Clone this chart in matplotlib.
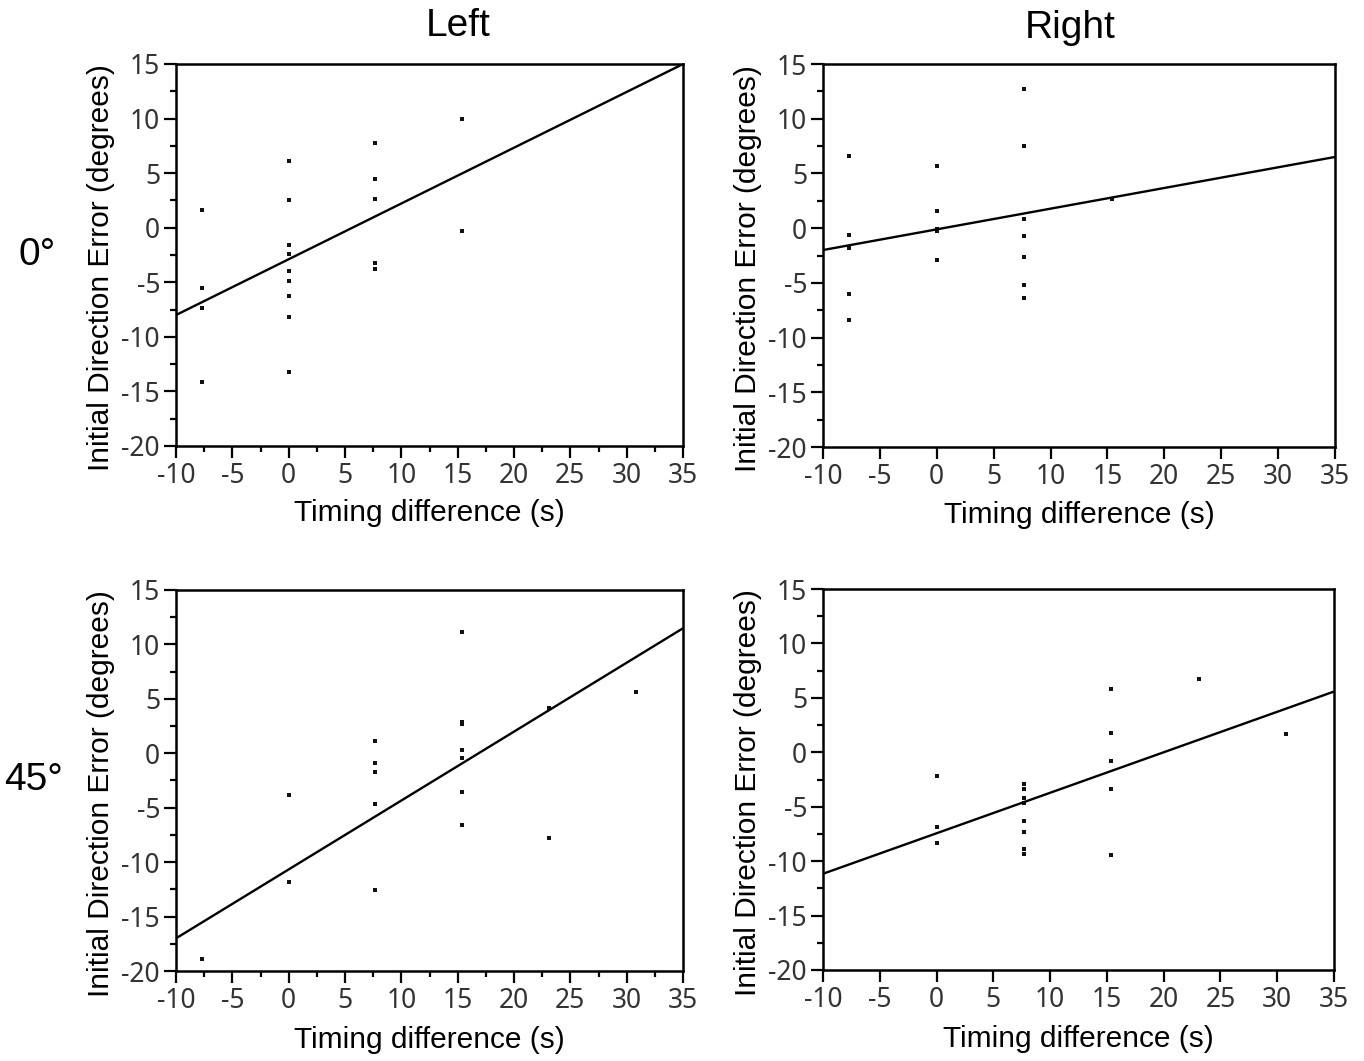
import numpy as np
import matplotlib
matplotlib.use("Agg")
import matplotlib.pyplot as plt
from matplotlib.ticker import MultipleLocator

plt.rcParams["axes.unicode_minus"] = False

# Timing differences (s) at which trials were recorded
# --- 0 deg, Left ---
x_0_left = [-7.7, -7.7, -7.7, -7.7,
            0, 0, 0, 0, 0, 0, 0, 0, 0,
            7.7, 7.7, 7.7, 7.7, 7.7,
            15.4, 15.4]
y_0_left = [1.6, -5.5, -7.4, -14.1,
            6.1, 2.5, -1.6, -2.4, -4.0, -4.9, -6.3, -8.2, -13.2,
            7.8, 4.5, 2.6, -3.2, -3.8,
            10.0, -0.3]
fit_0_left = (0.511, -2.89)

# --- 0 deg, Right ---
x_0_right = [-7.7, -7.7, -7.7, -7.7, -7.7,
             0, 0, 0, 0, 0,
             7.7, 7.7, 7.7, 7.7, 7.7, 7.7, 7.7,
             15.4]
y_0_right = [6.6, -0.6, -1.8, -6.0, -8.4,
             5.7, 1.6, -0.1, -0.3, -2.9,
             12.7, 7.5, 0.8, -0.7, -2.6, -5.2, -6.4,
             2.7]
fit_0_right = (0.189, -0.11)

# --- 45 deg, Left ---
x_45_left = [-7.7,
             0, 0,
             7.7, 7.7, 7.7, 7.7, 7.7,
             15.4, 15.4, 15.4, 15.4, 15.4, 15.4, 15.4,
             23.1, 23.1,
             30.8]
y_45_left = [-18.9,
             -3.8, -11.8,
             1.1, -0.9, -1.7, -4.7, -12.6,
             11.1, 2.9, 2.7, 0.3, -0.4, -3.6, -6.6,
             4.2, -7.8,
             5.6]
fit_45_left = (0.633, -10.67)

# --- 45 deg, Right ---
x_45_right = [0, 0, 0,
              7.7, 7.7, 7.7, 7.7, 7.7, 7.7, 7.7, 7.7,
              15.4, 15.4, 15.4, 15.4, 15.4,
              23.1,
              30.8]
y_45_right = [-2.2, -6.9, -8.3,
              -2.9, -3.4, -4.2, -4.7, -6.3, -7.3, -8.9, -9.3,
              5.8, 1.8, -0.8, -3.4, -9.4,
              6.7,
              1.7]
fit_45_right = (0.372, -7.44)

col_titles = ["Left", "Right"]
row_titles = ["0°", "45°"]
xlabel = "Timing difference (s)"
ylabel = "Initial Direction Error (degrees)"
xlim = (-10, 35)
ylim = (-20, 15)

W, H = 1364, 1061
fig = plt.figure(figsize=(W / 100, H / 100), dpi=100)

def px_axes(x0, y0, x1, y1):
    return fig.add_axes([x0 / W, 1 - y1 / H, (x1 - x0) / W, (y1 - y0) / H])

panels = [
    (px_axes(176, 64, 683, 446), x_0_left, y_0_left, fit_0_left, True, -0.14),
    (px_axes(823, 64, 1335, 447), x_0_right, y_0_right, fit_0_right, False, -0.14),
    (px_axes(176, 590, 683, 971), x_45_left, y_45_left, fit_45_left, True, -0.145),
    (px_axes(823, 589, 1334, 970), x_45_right, y_45_right, fit_45_right, False, -0.145),
]

tick_font = dict(family="Noto Sans", size=19, color="#333333")
label_font = dict(family="Liberation Sans", size=21.5, color="black")

for ax, xs, ys, (slope, icpt), x_minor, xlab_y in panels:
    ax.plot(xs, ys, linestyle="none", marker="s", ms=2.5, mew=0,
            color="#111111")
    xx = np.array(xlim, dtype=float)
    ax.plot(xx, slope * xx + icpt, color="black", lw=1.7, solid_capstyle="butt")
    ax.set_xlim(*xlim)
    ax.set_ylim(*ylim)
    ax.xaxis.set_major_locator(MultipleLocator(5))
    ax.yaxis.set_major_locator(MultipleLocator(5))
    ax.yaxis.set_minor_locator(MultipleLocator(2.5))
    if x_minor:
        ax.xaxis.set_minor_locator(MultipleLocator(2.5))
    for s in ax.spines.values():
        s.set_linewidth(1.8)
        s.set_color("black")
    ax.tick_params(which="major", direction="out", length=8.5, width=1.6,
                   pad=3, colors="black")
    ax.tick_params(which="minor", direction="out", length=4.5, width=1.6,
                   colors="black")
    for lab in ax.get_xticklabels() + ax.get_yticklabels():
        lab.set_fontfamily(tick_font["family"])
        lab.set_fontsize(tick_font["size"])
        lab.set_color(tick_font["color"])
    ax.set_xlabel(xlabel, **label_font)
    ax.set_ylabel(ylabel, **label_font)
    ax.xaxis.set_label_coords(0.5, xlab_y)
    ax.yaxis.set_label_coords(-0.12, 0.466)

# Column headers
fig.text(458 / W, 1 - 26 / H, col_titles[0], ha="center", va="center",
         family="Liberation Sans", size=28)
fig.text(1070 / W, 1 - 28 / H, col_titles[1], ha="center", va="center",
         family="Liberation Sans", size=28)
# Row headers
fig.text(37 / W, 1 - 255 / H, row_titles[0], ha="center", va="center",
         family="Liberation Sans", size=28)
fig.text(34 / W, 1 - 780 / H, row_titles[1], ha="center", va="center",
         family="Liberation Sans", size=28)

fig.savefig("out.png", dpi=100, facecolor="white")
